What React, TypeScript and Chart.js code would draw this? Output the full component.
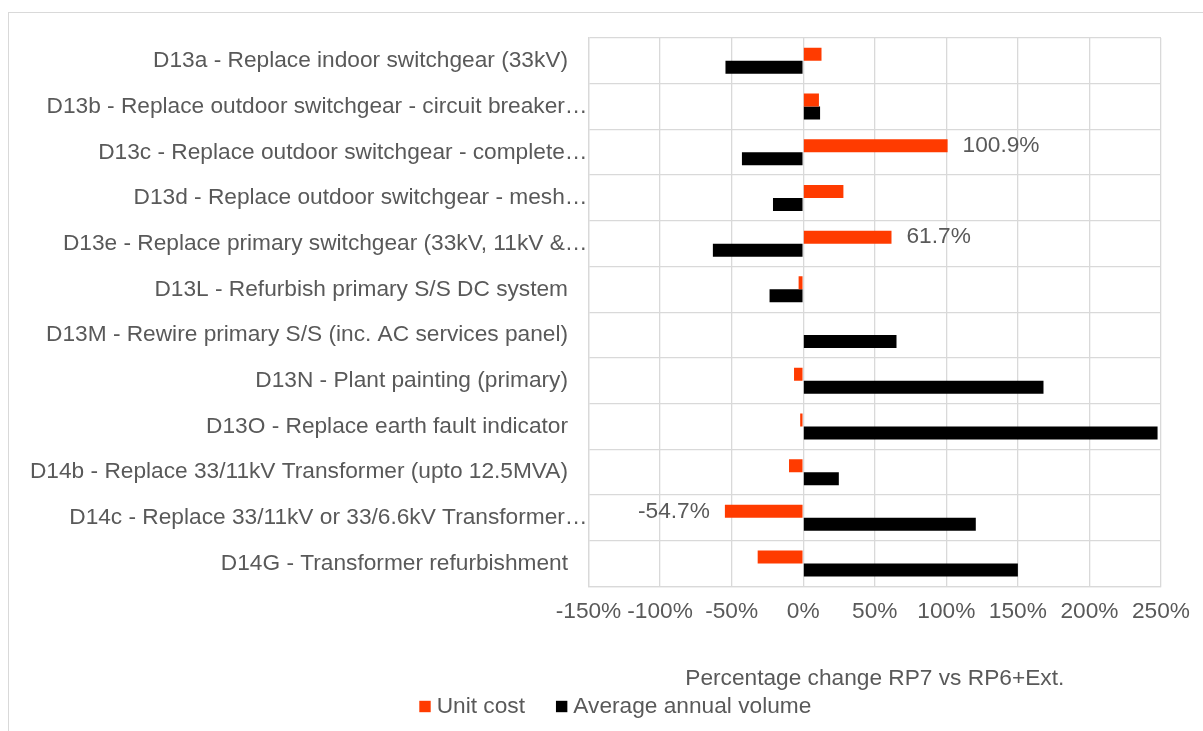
import React, { useEffect, useRef } from "react";
import { Chart, registerables } from "chart.js";

Chart.register(...registerables);

const categories: string[] = [
  "D13a - Replace indoor switchgear (33kV)",
  "D13b - Replace outdoor switchgear - circuit breaker…",
  "D13c - Replace outdoor switchgear - complete…",
  "D13d - Replace outdoor switchgear - mesh…",
  "D13e - Replace primary switchgear (33kV, 11kV &…",
  "D13L - Refurbish primary S/S DC system",
  "D13M - Rewire primary S/S (inc. AC services panel)",
  "D13N - Plant painting (primary)",
  "D13O - Replace earth fault indicator",
  "D14b - Replace 33/11kV Transformer (upto 12.5MVA)",
  "D14c - Replace 33/11kV or 33/6.6kV Transformer…",
  "D14G - Transformer refurbishment",
];

const unitCost: number[] = [12.8, 11.0, 100.9, 28.1, 61.7, -3.2, 0, -6.4, -2.1, -9.9, -54.7, -31.8];
const averageAnnualVolume: number[] = [-54.3, 11.8, -42.8, -21.1, -63.1, -23.5, 65.2, 167.9, 247.6, 24.9, 120.6, 150.0];

const labelledUnitCost: number[] = [2, 4, 10];

const xTickMin = -150;
const xTickMax = 250;
const xTickStep = 50;

const seriesNames: string[] = ["Unit cost", "Average annual volume"];
const axisTitle = "Percentage change RP7 vs RP6+Ext.";

const FONT_FAMILY = "'Liberation Sans', Arial, sans-serif";
const FONT_SIZE = 22.7;
const TEXT_COLOR = "#595959";
const GRID_COLOR = "#d9d9d9";
const ORANGE = "#FF3B00";
const BLACK = "#000000";

const CANVAS_W = 1194;
const CANVAS_H = 718;
const PLOT_LEFT = 579.5;
const PLOT_TOP = 25;
const PLOT_BOTTOM = 573.4;
const PLOT_RIGHT = 1152;

const isTruncated = (s: string) => s.endsWith("…");

const widenInnerAxisPlugin = {
  id: "widenInnerAxis",
  afterLayout(chart: any) {
    const s = chart.scales.y2;
    if (s) {
      s.left = 0;
      s.width = s.right - s.left;
    }
  },
};

const dataLabelPlugin = {
  id: "dataLabelPlugin",
  afterDatasetsDraw(chart: any) {
    const { ctx } = chart;
    const meta = chart.getDatasetMeta(0);
    ctx.save();
    ctx.font = `${FONT_SIZE}px ${FONT_FAMILY}`;
    ctx.fillStyle = TEXT_COLOR;
    ctx.textBaseline = "middle";
    labelledUnitCost.forEach((i) => {
      const el = meta.data[i];
      const v = unitCost[i];
      const gap = 15;
      const text = v.toFixed(1) + "%";
      if (v >= 0) {
        ctx.textAlign = "left";
        ctx.fillText(text, el.x + gap, el.y);
      } else {
        ctx.textAlign = "right";
        ctx.fillText(text, el.x - gap, el.y);
      }
    });
    ctx.restore();
  },
};

const legendPlugin = {
  id: "customLegend",
  afterDraw(chart: any) {
    const { ctx } = chart;
    const box = 11.4;
    const y = 693.5;
    let x = 410.3;
    ctx.save();
    ctx.font = `${FONT_SIZE}px ${FONT_FAMILY}`;
    ctx.textBaseline = "middle";
    ctx.textAlign = "left";
    chart.data.datasets.forEach((ds: any) => {
      ctx.fillStyle = ds.backgroundColor;
      ctx.fillRect(x, y - box / 2, box, box);
      x += box + 6;
      ctx.fillStyle = TEXT_COLOR;
      ctx.fillText(ds.label, x, y);
      x += ctx.measureText(ds.label).width + 31;
    });
    ctx.restore();
  },
};

const noVerticalOverhang = (scale: any) => {
  scale.paddingTop = 0;
  scale.paddingBottom = 0;
};

export default function App() {
  const canvasRef = useRef<HTMLCanvasElement | null>(null);

  useEffect(() => {
    if (!canvasRef.current) return;
    const font = { family: FONT_FAMILY, size: FONT_SIZE };
    const chart = new Chart(canvasRef.current, {
      type: "bar",
      data: {
        labels: categories,
        datasets: [
          {
            label: seriesNames[0],
            data: unitCost,
            backgroundColor: ORANGE,
            categoryPercentage: 0.57,
            barPercentage: 1.0,
          },
          {
            label: seriesNames[1],
            data: averageAnnualVolume,
            backgroundColor: BLACK,
            categoryPercentage: 0.57,
            barPercentage: 1.0,
          },
        ],
      },
      options: {
        indexAxis: "y",
        responsive: false,
        animation: false,
        layout: {
          padding: { top: PLOT_TOP, right: CANVAS_W - PLOT_RIGHT, bottom: 0, left: 0 },
        },
        plugins: {
          legend: { display: false },
          tooltip: { enabled: false },
        },
        scales: {
          x: {
            type: "linear",
            min: xTickMin,
            max: xTickMax,
            ticks: {
              stepSize: xTickStep,
              font,
              color: TEXT_COLOR,
              padding: 12,
              maxRotation: 0,
              minRotation: 0,
              autoSkip: false,
              callback: (v: any) => `${v}%`,
            },
            grid: { color: GRID_COLOR, lineWidth: 1.3, drawTicks: false },
            border: { color: GRID_COLOR, width: 1.3 },
            title: {
              display: true,
              text: axisTitle,
              font,
              color: TEXT_COLOR,
              padding: { top: 0, bottom: 38.5 },
            },
            afterFit: (scale: any) => {
              scale.height = CANVAS_H - PLOT_BOTTOM;
            },
          },
          y: {
            type: "category",
            position: "left",
            weight: 1,
            labels: categories.map((c) => (isTruncated(c) ? "" : c)),
            ticks: { font, color: TEXT_COLOR, padding: 20.5, autoSkip: false },
            grid: { color: GRID_COLOR, lineWidth: 1.3, drawTicks: false, offset: true },
            border: { color: GRID_COLOR, width: 1.3 },
            afterFit: (scale: any) => {
              scale.width = PLOT_LEFT;
              noVerticalOverhang(scale);
            },
          },
          y2: {
            type: "category",
            position: "left",
            weight: 0,
            offset: true,
            labels: categories.map((c) => (isTruncated(c) ? c : "")),
            ticks: { font, color: TEXT_COLOR, padding: 1, autoSkip: false },
            grid: { display: false, drawTicks: false },
            border: { display: false },
            afterFit: (scale: any) => {
              scale.width = 0;
              noVerticalOverhang(scale);
            },
          },
        },
      } as any,
      plugins: [widenInnerAxisPlugin, dataLabelPlugin, legendPlugin],
    });
    return () => chart.destroy();
  }, []);

  return (
    <div
      style={{
        position: "fixed",
        left: 8,
        top: 12,
        width: CANVAS_W + 1,
        height: CANVAS_H + 1,
        borderLeft: `1px solid ${GRID_COLOR}`,
        borderTop: `1px solid ${GRID_COLOR}`,
        background: "#fff",
      }}
    >
      <canvas ref={canvasRef} width={CANVAS_W} height={CANVAS_H} style={{ display: "block" }} />
    </div>
  );
}
